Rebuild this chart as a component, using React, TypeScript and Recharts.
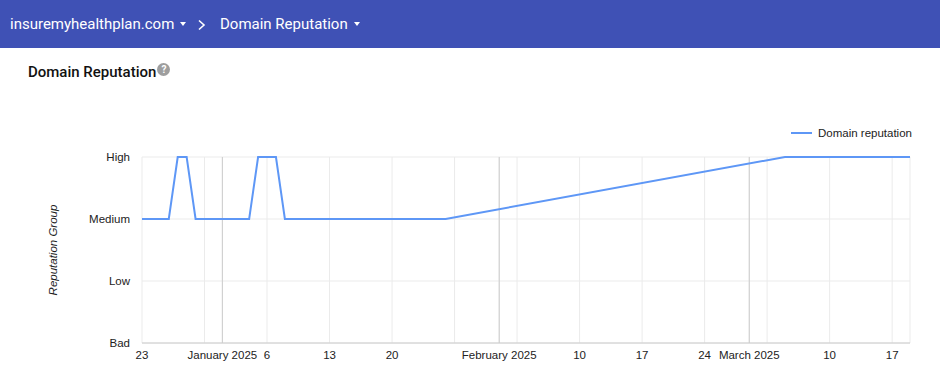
import React from 'react'
import {
  LineChart,
  Line,
  XAxis,
  YAxis,
  CartesianGrid,
  ReferenceLine,
} from 'recharts'

const levels = ['Bad', 'Low', 'Medium', 'High']

const dates = [
  '2024-12-23',
  '2024-12-26',
  '2024-12-27',
  '2024-12-28',
  '2024-12-29',
  '2025-01-04',
  '2025-01-05',
  '2025-01-07',
  '2025-01-08',
  '2025-01-26',
  '2025-03-05',
  '2025-03-19',
]
const reputation = [
  'Medium',
  'Medium',
  'High',
  'High',
  'Medium',
  'Medium',
  'High',
  'High',
  'Medium',
  'Medium',
  'High',
  'High',
]

const tickDates = [
  '2024-12-23',
  '2024-12-30',
  '2025-01-01',
  '2025-01-06',
  '2025-01-13',
  '2025-01-20',
  '2025-01-27',
  '2025-02-01',
  '2025-02-03',
  '2025-02-10',
  '2025-02-17',
  '2025-02-24',
  '2025-03-01',
  '2025-03-03',
  '2025-03-10',
  '2025-03-17',
]
const tickLabels = [
  '23',
  '',
  'January 2025',
  '6',
  '13',
  '20',
  '',
  'February 2025',
  '',
  '10',
  '17',
  '24',
  'March 2025',
  '',
  '10',
  '17',
]
const monthStarts = ['2025-01-01', '2025-02-01', '2025-03-01']
const domainDates = ['2024-12-23', '2025-03-19']

const ts = (d: string) => new Date(d + 'T00:00:00Z').getTime()

const data = dates.map((d, i) => ({
  time: ts(d),
  value: levels.indexOf(reputation[i]),
}))

const ticks = tickDates.map(ts)
const labelFor = (v: number) => {
  const i = ticks.indexOf(v)
  return i >= 0 ? tickLabels[i] : ''
}

const LINE_COLOR = '#5e97f6'
const AXIS_FONT = "Arial, 'Liberation Sans', sans-serif"
const AXIS_SIZE = 11.5

const YLabel = (props: any) => {
  const vb = props.viewBox || { x: 0, y: 157, width: 142, height: 186 }
  const cx = vb.x + 53
  const cy = vb.y + vb.height / 2
  return (
    <text
      x={cx}
      y={cy}
      transform={`rotate(-90, ${cx}, ${cy})`}
      textAnchor='middle'
      dominantBaseline='central'
      fontFamily={AXIS_FONT}
      fontSize={11.5}
      fontStyle='italic'
      fill='#222'
    >
      Reputation Group
    </text>
  )
}

const Caret = () => (
  <span
    style={{
      display: 'inline-block',
      width: 0,
      height: 0,
      borderLeft: '3.5px solid transparent',
      borderRight: '3.5px solid transparent',
      borderTop: '4px solid #fff',
      marginLeft: 6,
      position: 'relative',
      top: -3,
    }}
  />
)

export default function App() {
  return (
    <div
      style={{
        position: 'absolute',
        left: 0,
        top: 0,
        width: 940,
        height: 391,
        background: '#fff',
        fontFamily: 'Roboto, sans-serif',
        overflow: 'hidden',
      }}
    >
      <div
        style={{
          position: 'absolute',
          left: 0,
          top: 0,
          width: 940,
          height: 48,
          background: '#3f51b5',
          color: '#fff',
          fontSize: 15,
          lineHeight: '48px',
          whiteSpace: 'nowrap',
        }}
      >
        <span style={{ position: 'absolute', left: 10, top: 0 }}>
          insuremyhealthplan.com
          <Caret />
        </span>
        <svg
          style={{ position: 'absolute', left: 197, top: 19 }}
          width={10}
          height={12}
        >
          <polyline
            points='2,1.5 7,6 2,10.5'
            fill='none'
            stroke='#fff'
            strokeWidth={1.6}
          />
        </svg>
        <span style={{ position: 'absolute', left: 220, top: 0 }}>
          Domain Reputation
          <Caret />
        </span>
      </div>

      <div
        style={{
          position: 'absolute',
          left: 28,
          top: 63,
          fontSize: 15,
          fontWeight: 500,
          color: '#111',
          whiteSpace: 'nowrap',
          display: 'flex',
          alignItems: 'center',
        }}
      >
        Domain Reputation
        <span
          style={{
            display: 'inline-block',
            width: 13,
            height: 13,
            borderRadius: '50%',
            background: '#9e9e9e',
            color: '#fff',
            fontSize: 10,
            fontWeight: 700,
            lineHeight: '13px',
            textAlign: 'center',
            marginLeft: 1,
            position: 'relative',
            top: -3,
          }}
        >
          ?
        </span>
      </div>

      <div
        style={{
          position: 'absolute',
          left: 791,
          top: 127,
          display: 'flex',
          alignItems: 'center',
          fontFamily: AXIS_FONT,
          fontSize: AXIS_SIZE,
          color: '#222',
          whiteSpace: 'nowrap',
        }}
      >
        <span
          style={{
            display: 'inline-block',
            width: 21,
            height: 2,
            background: LINE_COLOR,
            marginRight: 6,
          }}
        />
        Domain reputation
      </div>

      <div style={{ position: 'absolute', left: 0, top: 0 }}>
        <LineChart
          width={940}
          height={391}
          data={data}
          margin={{ top: 157, right: 30, bottom: 18, left: 0 }}
        >
          <CartesianGrid stroke='#ebebeb' strokeWidth={1} />
          {monthStarts.map((m) => (
            <ReferenceLine key={m} x={ts(m)} stroke='#cccccc' />
          ))}
          <XAxis
            dataKey='time'
            type='number'
            scale='time'
            domain={domainDates.map(ts)}
            ticks={ticks}
            tickFormatter={labelFor}
            interval={0}
            tickLine={false}
            axisLine={{ stroke: '#cccccc' }}
            tick={{ fontFamily: AXIS_FONT, fontSize: AXIS_SIZE, fill: '#222' }}
            height={30}
          />
          <YAxis
            type='number'
            domain={[0, 3]}
            ticks={[0, 1, 2, 3]}
            tickFormatter={(v: number) => levels[v]}
            interval={0}
            width={142}
            tickLine={false}
            axisLine={false}
            tickMargin={6}
            tick={{ fontFamily: AXIS_FONT, fontSize: AXIS_SIZE, fill: '#222' }}
            label={<YLabel />}
          />
          <Line
            type='linear'
            dataKey='value'
            stroke={LINE_COLOR}
            strokeWidth={2}
            dot={false}
            isAnimationActive={false}
          />
        </LineChart>
      </div>
    </div>
  )
}
